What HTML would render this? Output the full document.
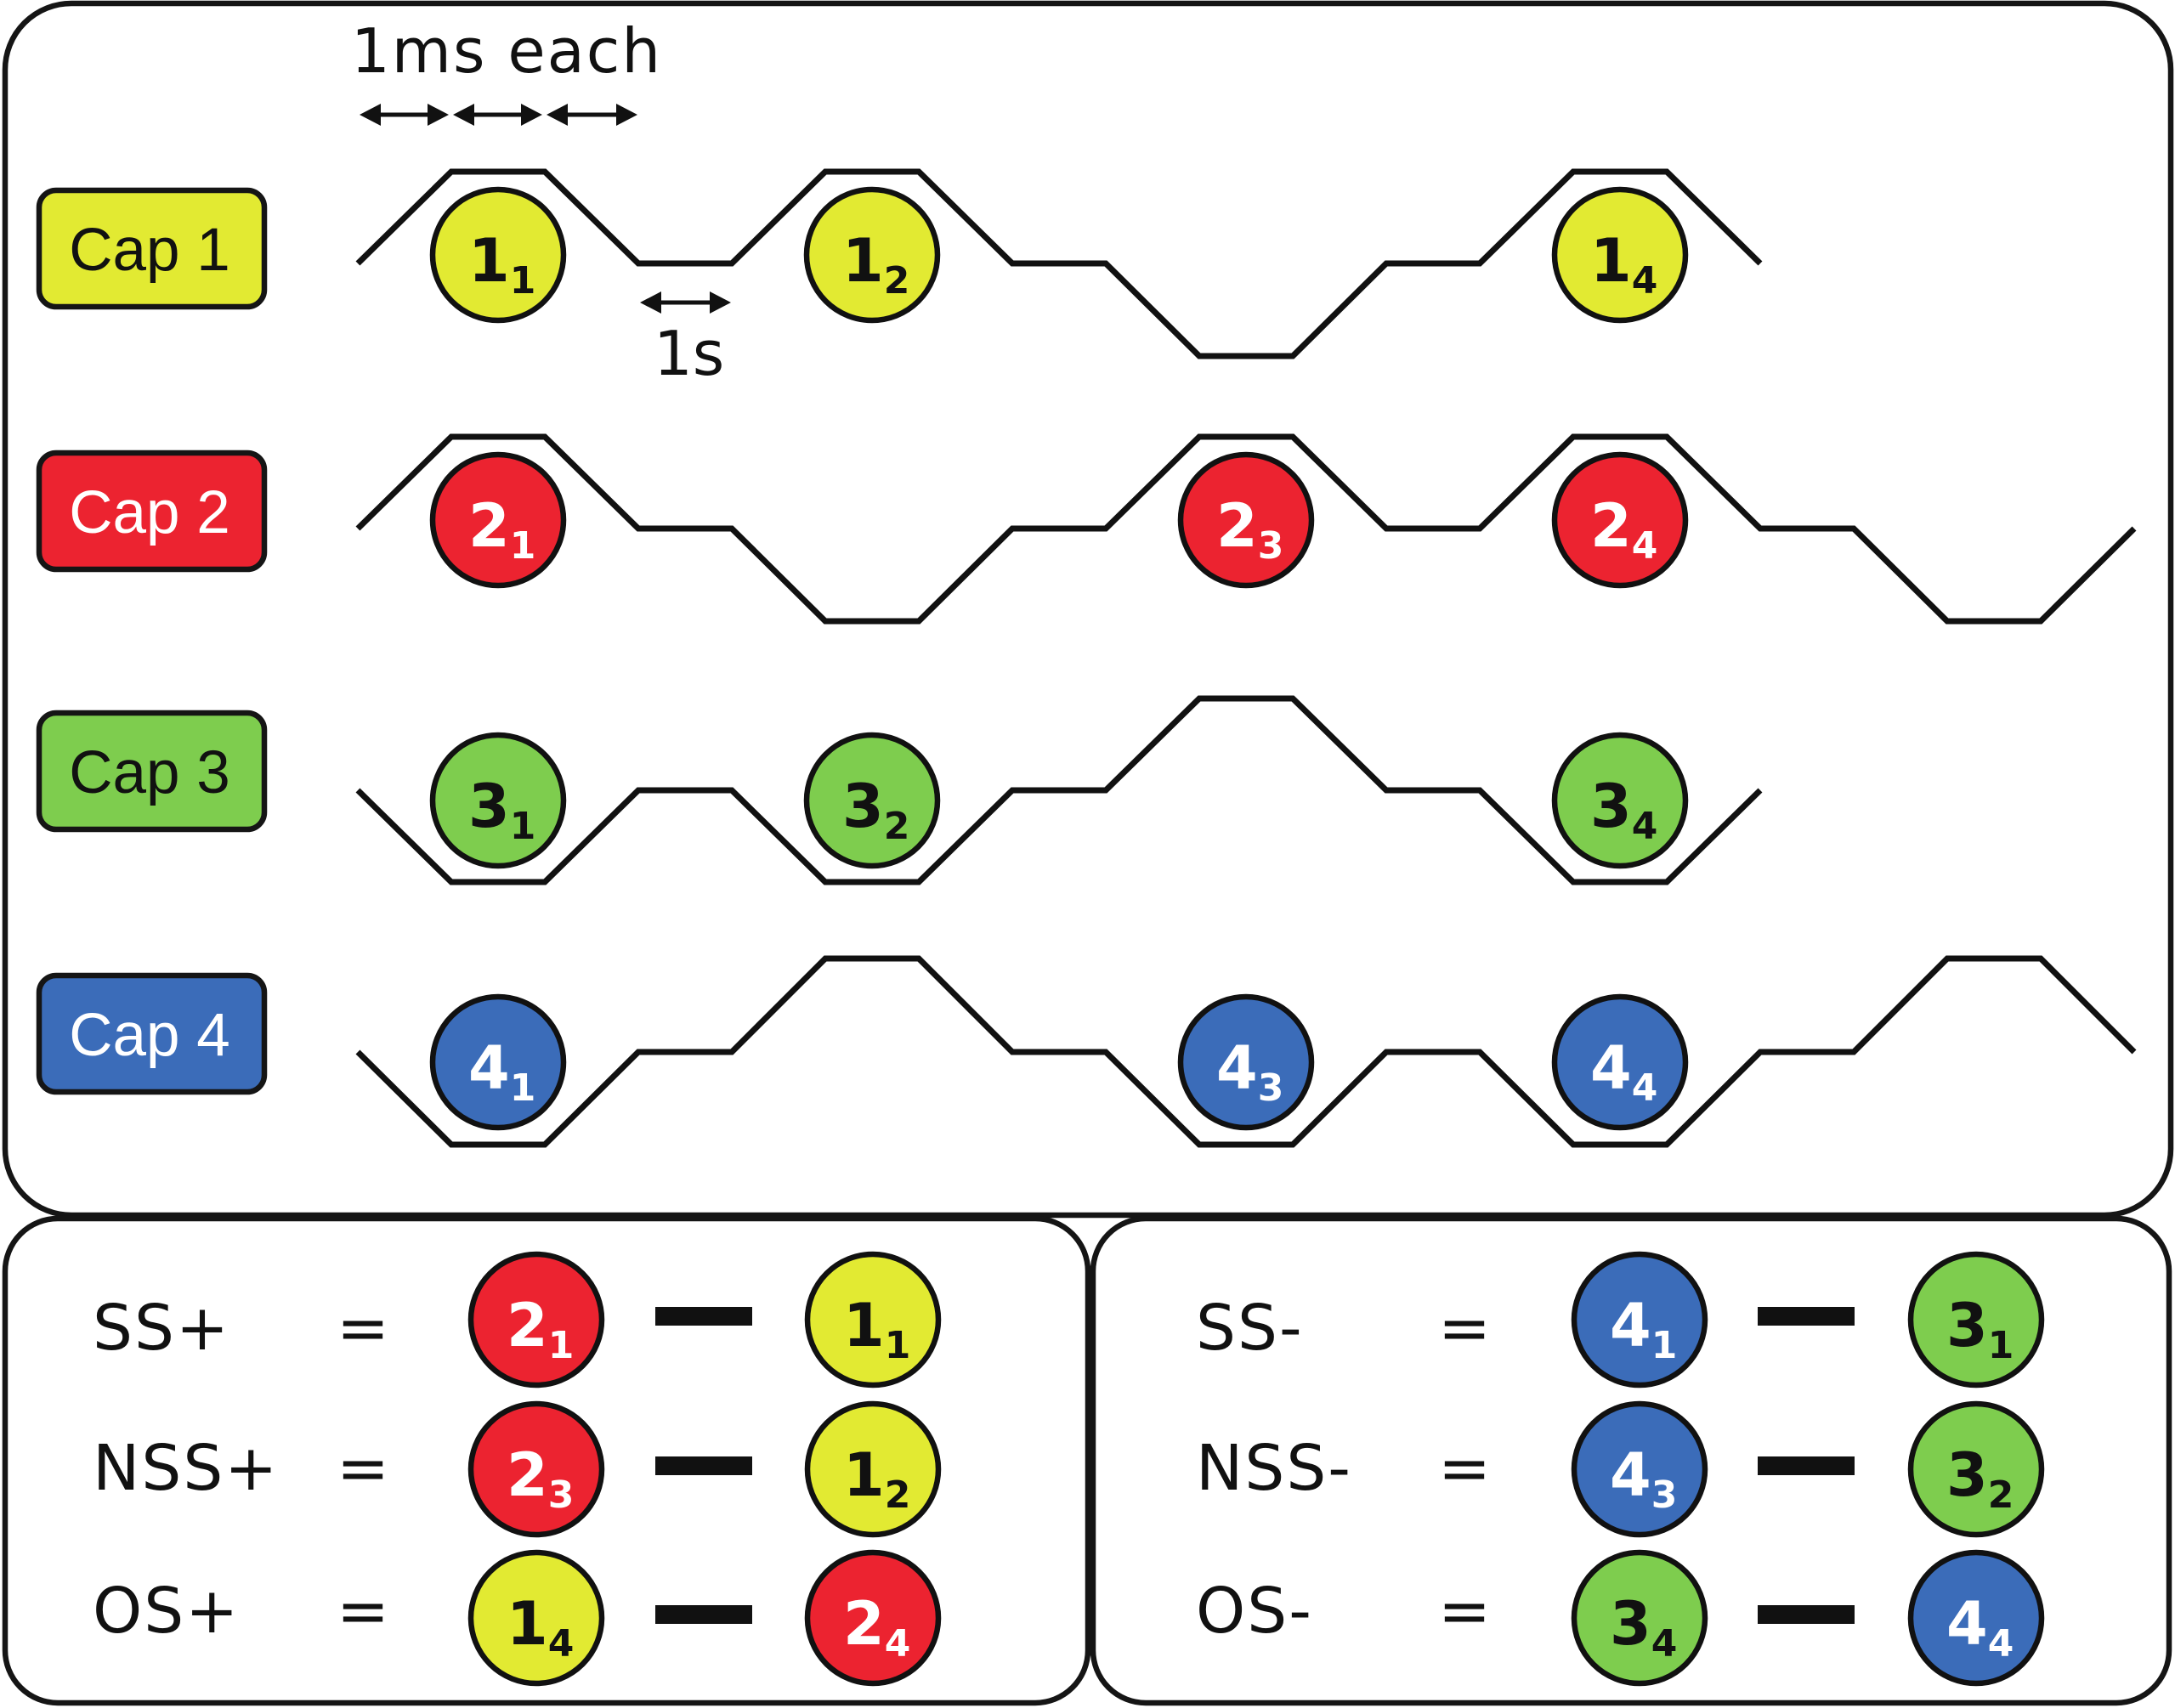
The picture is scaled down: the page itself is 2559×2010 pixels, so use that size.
<!DOCTYPE html>
<html>
<head>
<meta charset="utf-8">
<style>
  html, body { margin: 0; padding: 0; background: #ffffff; }
  svg { display: block; }
  .lbl { font-family: "Liberation Sans", Arial, sans-serif; font-size: 71px; text-anchor: middle; }
  .dv { font-family: "DejaVu Sans", Verdana, sans-serif; fill: #111; }
  .num { font-family: "DejaVu Sans", Verdana, sans-serif; font-weight: bold; font-size: 70px; }
  .sub { font-size: 44px; }
</style>
</head>
<body>
<svg width="2559" height="2010" viewBox="0 0 2559 2010" xmlns="http://www.w3.org/2000/svg">
  <rect x="0" y="0" width="2559" height="2010" fill="#ffffff"/>

  <!-- Panel frames -->
  <rect x="6" y="4" width="2548" height="1426" rx="78" ry="78" fill="none" stroke="#151515" stroke-width="6.5"/>
  <rect x="6" y="1434" width="1274" height="570" rx="62" ry="62" fill="none" stroke="#151515" stroke-width="6.5"/>
  <rect x="1286" y="1434" width="1266" height="570" rx="62" ry="62" fill="none" stroke="#151515" stroke-width="6.5"/>

  <!-- 1ms each -->
  <text class="dv" x="413" y="85" font-size="72" letter-spacing="2">1ms each</text>
  <g fill="#111" stroke="none">
    <rect x="440" y="132.5" width="71" height="5"/>
    <polygon points="423,135 448,122 448,148"/>
    <polygon points="528,135 503,122 503,148"/>
    <rect x="550" y="132.5" width="71" height="5"/>
    <polygon points="533,135 558,122 558,148"/>
    <polygon points="638,135 613,122 613,148"/>
    <rect x="660" y="132.5" width="73" height="5"/>
    <polygon points="643,135 668,122 668,148"/>
    <polygon points="750,135 725,122 725,148"/>
    <rect x="770" y="353.5" width="73" height="5"/>
    <polygon points="753,356 778,343 778,369"/>
    <polygon points="860,356 835,343 835,369"/>
  </g>
  <text class="dv" x="769" y="441" font-size="72">1s</text>

  <!-- Waveforms -->
  <g fill="none" stroke="#111" stroke-width="7" stroke-linejoin="miter" stroke-linecap="butt">
    <polyline points="421,310 531,202 641,202 751,310 861,310 971,202 1081,202 1191,310 1301,310 1411,419 1521,419 1631,310 1741,310 1851,202 1961,202 2071,310"/>
    <polyline points="421,622 531,514 641,514 751,622 861,622 971,731 1081,731 1191,622 1301,622 1411,514 1521,514 1631,622 1741,622 1851,514 1961,514 2071,622 2181,622 2291,731 2401,731 2511,622"/>
    <polyline points="421,930 531,1038 641,1038 751,930 861,930 971,1038 1081,1038 1191,930 1301,930 1411,822 1521,822 1631,930 1741,930 1851,1038 1961,1038 2071,930"/>
    <polyline points="421,1238 531,1347 641,1347 751,1238 861,1238 971,1128 1081,1128 1191,1238 1301,1238 1411,1347 1521,1347 1631,1238 1741,1238 1851,1347 1961,1347 2071,1238 2181,1238 2291,1128 2401,1128 2511,1238"/>
  </g>

  <!-- Cap labels -->
  <g stroke="#151515" stroke-width="6.5">
    <rect x="46" y="224" width="265" height="137" rx="20" ry="20" fill="#e2ea32"/>
    <rect x="46" y="533" width="265" height="137" rx="20" ry="20" fill="#ec2330"/>
    <rect x="46" y="839" width="265" height="137" rx="20" ry="20" fill="#7ecd4e"/>
    <rect x="46" y="1148" width="265" height="137" rx="20" ry="20" fill="#3b6cb9"/>
  </g>
  <text class="lbl" x="176" y="318" fill="#111">Cap 1</text>
  <text class="lbl" x="176" y="627" fill="#ffffff">Cap 2</text>
  <text class="lbl" x="176" y="933" fill="#111">Cap 3</text>
  <text class="lbl" x="176" y="1242" fill="#ffffff">Cap 4</text>

  <!-- Top panel circles -->
  <g stroke="#111" stroke-width="6.5">
    <circle cx="586" cy="300" r="77" fill="#e2ea32"/>
    <circle cx="1026" cy="300" r="77" fill="#e2ea32"/>
    <circle cx="1906" cy="300" r="77" fill="#e2ea32"/>
    <circle cx="586" cy="612" r="77" fill="#ec2330"/>
    <circle cx="1466" cy="612" r="77" fill="#ec2330"/>
    <circle cx="1906" cy="612" r="77" fill="#ec2330"/>
    <circle cx="586" cy="942" r="77" fill="#7ecd4e"/>
    <circle cx="1026" cy="942" r="77" fill="#7ecd4e"/>
    <circle cx="1906" cy="942" r="77" fill="#7ecd4e"/>
    <circle cx="586" cy="1250" r="77" fill="#3b6cb9"/>
    <circle cx="1466" cy="1250" r="77" fill="#3b6cb9"/>
    <circle cx="1906" cy="1250" r="77" fill="#3b6cb9"/>
  </g>
  <g class="num">
    <text x="551" y="331" fill="#111">1<tspan class="sub" dy="14">1</tspan></text>
    <text x="991" y="331" fill="#111">1<tspan class="sub" dy="14">2</tspan></text>
    <text x="1871" y="331" fill="#111">1<tspan class="sub" dy="14">4</tspan></text>
    <text x="551" y="643" fill="#fff">2<tspan class="sub" dy="14">1</tspan></text>
    <text x="1431" y="643" fill="#fff">2<tspan class="sub" dy="14">3</tspan></text>
    <text x="1871" y="643" fill="#fff">2<tspan class="sub" dy="14">4</tspan></text>
    <text x="551" y="973" fill="#111">3<tspan class="sub" dy="14">1</tspan></text>
    <text x="991" y="973" fill="#111">3<tspan class="sub" dy="14">2</tspan></text>
    <text x="1871" y="973" fill="#111">3<tspan class="sub" dy="14">4</tspan></text>
    <text x="551" y="1281" fill="#fff">4<tspan class="sub" dy="14">1</tspan></text>
    <text x="1431" y="1281" fill="#fff">4<tspan class="sub" dy="14">3</tspan></text>
    <text x="1871" y="1281" fill="#fff">4<tspan class="sub" dy="14">4</tspan></text>
  </g>

  <!-- Bottom left panel -->
  <text class="dv" x="109" y="1588" font-size="74" letter-spacing="2">SS+</text>
  <text class="dv" x="109" y="1753" font-size="74" letter-spacing="2">NSS+</text>
  <text class="dv" x="109" y="1921" font-size="74" letter-spacing="2">OS+</text>
  <text class="dv" x="396" y="1588" font-size="74">=</text>
  <text class="dv" x="396" y="1753" font-size="74">=</text>
  <text class="dv" x="396" y="1921" font-size="74">=</text>
  <g fill="#111">
    <rect x="771" y="1538" width="114" height="22"/>
    <rect x="771" y="1714" width="114" height="22"/>
    <rect x="771" y="1889" width="114" height="22"/>
  </g>

  <!-- Bottom right panel -->
  <text class="dv" x="1407" y="1588" font-size="74" letter-spacing="2">SS-</text>
  <text class="dv" x="1407" y="1753" font-size="74" letter-spacing="2">NSS-</text>
  <text class="dv" x="1407" y="1921" font-size="74" letter-spacing="2">OS-</text>
  <text class="dv" x="1692" y="1588" font-size="74">=</text>
  <text class="dv" x="1692" y="1753" font-size="74">=</text>
  <text class="dv" x="1692" y="1921" font-size="74">=</text>
  <g fill="#111">
    <rect x="2068" y="1538" width="114" height="22"/>
    <rect x="2068" y="1714" width="114" height="22"/>
    <rect x="2068" y="1889" width="114" height="22"/>
  </g>

  <!-- Bottom circles -->
  <g stroke="#111" stroke-width="6.5">
    <circle cx="631" cy="1553" r="77" fill="#ec2330"/>
    <circle cx="1027" cy="1553" r="77" fill="#e2ea32"/>
    <circle cx="631" cy="1729" r="77" fill="#ec2330"/>
    <circle cx="1027" cy="1729" r="77" fill="#e2ea32"/>
    <circle cx="631" cy="1904" r="77" fill="#e2ea32"/>
    <circle cx="1027" cy="1904" r="77" fill="#ec2330"/>

    <circle cx="1929" cy="1553" r="77" fill="#3b6cb9"/>
    <circle cx="2325" cy="1553" r="77" fill="#7ecd4e"/>
    <circle cx="1929" cy="1729" r="77" fill="#3b6cb9"/>
    <circle cx="2325" cy="1729" r="77" fill="#7ecd4e"/>
    <circle cx="1929" cy="1904" r="77" fill="#7ecd4e"/>
    <circle cx="2325" cy="1904" r="77" fill="#3b6cb9"/>
  </g>
  <g class="num">
    <text x="596" y="1584" fill="#fff">2<tspan class="sub" dy="14">1</tspan></text>
    <text x="992" y="1584" fill="#111">1<tspan class="sub" dy="14">1</tspan></text>
    <text x="596" y="1760" fill="#fff">2<tspan class="sub" dy="14">3</tspan></text>
    <text x="992" y="1760" fill="#111">1<tspan class="sub" dy="14">2</tspan></text>
    <text x="596" y="1935" fill="#111">1<tspan class="sub" dy="14">4</tspan></text>
    <text x="992" y="1935" fill="#fff">2<tspan class="sub" dy="14">4</tspan></text>

    <text x="1894" y="1584" fill="#fff">4<tspan class="sub" dy="14">1</tspan></text>
    <text x="2290" y="1584" fill="#111">3<tspan class="sub" dy="14">1</tspan></text>
    <text x="1894" y="1760" fill="#fff">4<tspan class="sub" dy="14">3</tspan></text>
    <text x="2290" y="1760" fill="#111">3<tspan class="sub" dy="14">2</tspan></text>
    <text x="1894" y="1935" fill="#111">3<tspan class="sub" dy="14">4</tspan></text>
    <text x="2290" y="1935" fill="#fff">4<tspan class="sub" dy="14">4</tspan></text>
  </g>
</svg>
</body>
</html>
